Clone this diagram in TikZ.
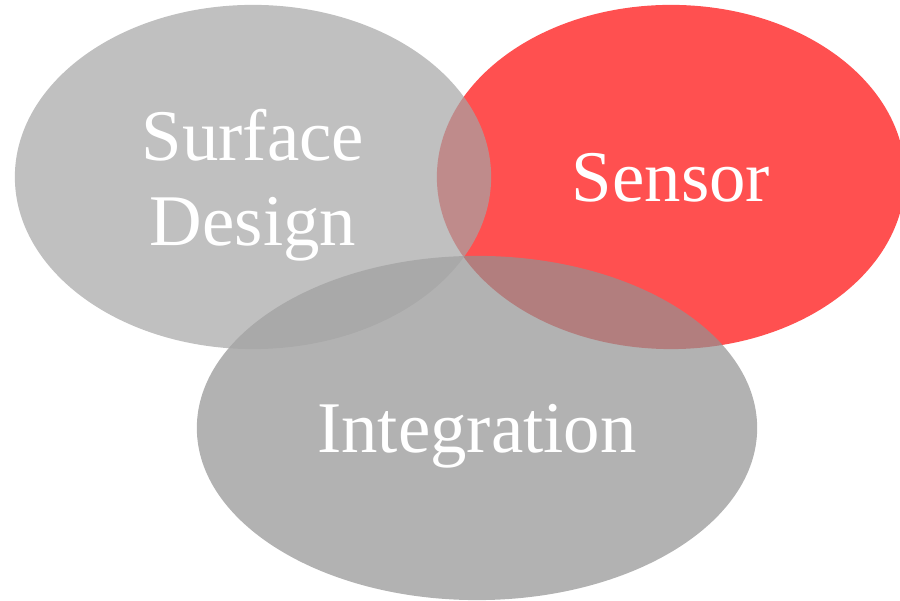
\documentclass[tikz,border=0pt]{standalone}
\usepackage{fontspec}
\setmainfont{Liberation Serif}
\usepackage{xcolor}
\usepackage{tikz}
\usetikzlibrary{shapes.geometric}
\definecolor{cred}{HTML}{FF5050}
\definecolor{cgray}{HTML}{A5A5A5}
\definecolor{cdgray}{HTML}{929292}
\tikzset{blob/.style={
  ellipse, inner sep=0pt,
  text=white, text opacity=1,
  align=center, text depth=0pt,
  font=\fontsize{20.7}{24.2}\selectfont,
}}

\begin{document}
\begin{tikzpicture}[x=0.01cm, y=-0.01cm]
\useasboundingbox (0,0) rectangle (900,601);

\node[blob, fill=cred, minimum width=4.68cm, minimum height=3.44cm] (sensor) at (671,177) {Sensor};
\node[blob, fill=cdgray, fill opacity=0.7, minimum width=5.6cm, minimum height=3.44cm] (integ) at (477,428) {Integration};
\node[blob, fill=cgray, fill opacity=0.7, minimum width=4.76cm, minimum height=3.44cm] (surf) at (253,177) {Surface\\Design};

\end{tikzpicture}
\end{document}
